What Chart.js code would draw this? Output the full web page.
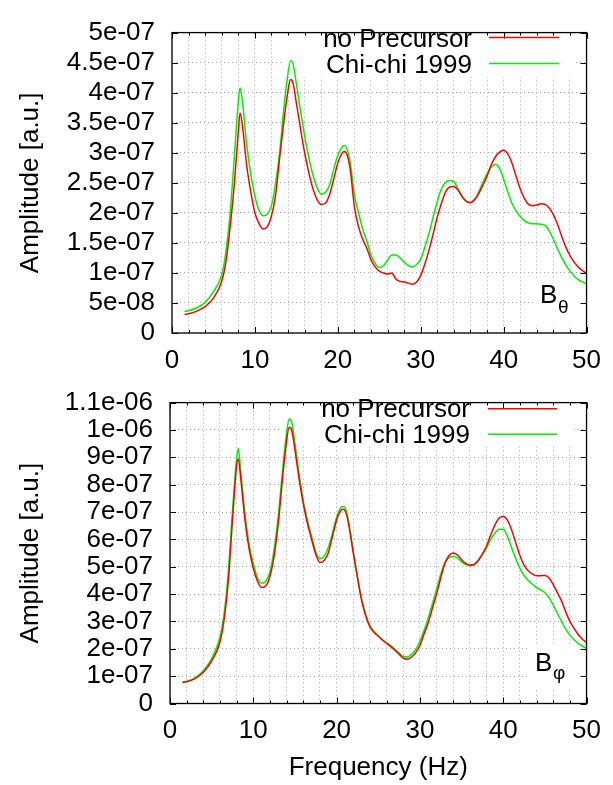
<!DOCTYPE html>
<html>
<head>
<meta charset="utf-8">
<script src="https://cdn.jsdelivr.net/npm/chart.js@4.4.1/dist/chart.umd.min.js"></script>
<style>
    html, body { margin: 0; padding: 0; background: #fff; }
    #wrap { position: relative; width: 613px; height: 785px; }
    canvas { position: absolute; left: 0; }
    #thetaChart { top: 0; }
    #phiChart { top: 370px; }
</style>
</head>
<body>
<div id="wrap">
    <canvas id="thetaChart" width="613" height="382"></canvas>
    <canvas id="phiChart" width="613" height="415"></canvas>
</div>
<script>
// frequency samples (Hz), shared by all curves
const freq = [
    1.5, 2, 3, 4, 5, 6, 6.5, 7, 7.5, 8,
    8.2, 8.5,
    9, 9.5, 10, 10.5, 11, 11.5, 12, 12.5, 13, 13.5, 14,
    14.3, 14.6,
    15, 15.5, 16, 16.5, 17, 17.5, 18, 18.5, 19, 19.5, 20, 20.5,
    20.8, 21.2,
    21.5, 22, 22.5, 23, 23.5, 24, 24.5, 25, 25.5, 26, 26.5, 27, 27.5, 28, 28.5, 29, 29.5,
    30, 30.5, 31, 31.5, 32, 32.5, 33, 33.5, 34, 34.5, 35, 35.5, 36, 36.5, 37, 37.5, 38, 38.5, 39, 39.5,
    40, 40.5, 41, 41.5, 42, 42.5, 43, 43.5, 44, 44.5, 45, 45.5, 46, 46.5, 47, 47.5, 48, 48.5, 49, 49.5, 50
];

// B_theta amplitude, units of 1e-8
const thetaNoPrecursor = [
    3.1, 3.2, 3.65, 4.4, 5.8, 8.6, 11.8, 17.5, 24.5, 33.5,
    36.6, 34.5,
    28, 23.5, 20, 18.2, 17.3, 17.7, 19.5, 23, 29.3, 35.3, 40.4,
    42.2, 41.6,
    38.3, 34, 30, 26.7, 24, 22.2, 21.4, 21.6, 23, 25.6, 28.3, 29.9,
    30.2, 29.3,
    27.2, 21.0, 17.7, 15.6, 14.1, 12.2, 11.0, 10.3, 10.0, 9.8, 10.0, 9.0, 8.6, 8.5, 8.3, 8.1, 8.5,
    9.6, 11.5, 13.8, 16.5, 19.3, 21.6, 23.5, 24.3, 24.4, 23.8, 22.7, 21.9, 21.7, 22.2, 23.2, 24.6, 26.1, 28, 29.3, 30.1,
    30.4, 29.8, 28.3, 26.1, 24, 22.4, 21.4, 21.2, 21.3, 21.5, 21.4, 20.8, 19.7, 18.1, 16.1, 14.3, 12.9, 11.8, 11.0, 10.4, 9.9
];
const thetaChichi = [
    3.6, 3.7, 4.2, 5.1, 6.9, 9.7, 13.5, 19.7, 29, 38.5,
    40.8, 38.5,
    31.5, 26.5, 22.8, 20.4, 19.5, 19.8, 21.2, 25, 30.3, 37.5, 43.3,
    45.3, 44.8,
    41.5, 37, 32.8, 29.2, 26.3, 24.2, 23.1, 23.4, 24.6, 27.2, 29.6, 30.9,
    31.2, 30.2,
    28.3, 23.0, 20.0, 17.3, 15.3, 13.0, 11.6, 10.9, 11.2, 12.1, 13.0, 13.0, 12.5, 11.8, 11.2, 11.0, 11.4,
    12.3, 14.3, 16.6, 19.3, 21.9, 24, 25.1, 25.4, 25.2, 24, 22.7, 21.9, 21.7, 22.2, 23.5, 25.1, 26.5, 27.6, 28.1, 27.4,
    25.6, 23.5, 21.6, 20.3, 19.4, 18.7, 18.3, 18.2, 18.2, 18.1, 17.9, 17.0, 15.6, 14.0, 12.6, 11.3, 10.3, 9.5, 8.9, 8.5, 8.2
];

// B_phi amplitude, units of 1e-7
const phiNoPrecursor = [
    0.77, 0.79, 0.91, 1.14, 1.55, 2.25, 3.07, 4.47, 6.7, 8.7,
    8.94, 8.2,
    6.7, 5.64, 4.94, 4.47, 4.24, 4.3, 4.65, 5.4, 6.58, 8.2, 9.6,
    10.1, 10.0,
    9.27, 8.2, 7.3, 6.58, 6.0, 5.45, 5.15, 5.23, 5.5, 6.1, 6.7, 7.05,
    7.1, 6.9,
    6.46, 5.5, 4.6, 3.77, 3.2, 2.8, 2.6, 2.46, 2.32, 2.2, 2.08, 1.95, 1.8, 1.66, 1.62, 1.7, 1.86,
    2.12, 2.54, 2.95, 3.48, 4.0, 4.59, 5.12, 5.41, 5.5, 5.43, 5.26, 5.12, 5.06, 5.08, 5.23, 5.47, 5.76, 6.17, 6.52, 6.78,
    6.84, 6.7, 6.35, 5.88, 5.41, 5.06, 4.85, 4.73, 4.67, 4.67, 4.68, 4.59, 4.35, 4.05, 3.75, 3.35, 3.0, 2.75, 2.52, 2.35, 2.23
];
const phiChichi = [
    0.79, 0.81, 0.94, 1.2, 1.64, 2.43, 3.3, 4.82, 7.05, 8.95,
    9.33, 8.45,
    6.93, 5.82, 5.12, 4.6, 4.4, 4.47, 4.82, 5.64, 6.87, 8.5, 9.9,
    10.4, 10.3,
    9.5, 8.39, 7.4, 6.7, 6.11, 5.55, 5.29, 5.38, 5.7, 6.23, 6.81, 7.16,
    7.2, 7.0,
    6.52, 5.58, 4.65, 3.83, 3.25, 2.85, 2.63, 2.48, 2.33, 2.22, 2.12, 1.98, 1.85, 1.72, 1.7, 1.8, 1.97,
    2.28, 2.68, 3.13, 3.65, 4.18, 4.73, 5.15, 5.33, 5.37, 5.32, 5.18, 5.08, 5.04, 5.08, 5.23, 5.44, 5.7, 6.0, 6.23, 6.37,
    6.37, 6.11, 5.7, 5.29, 4.94, 4.68, 4.5, 4.36, 4.24, 4.15, 4.05, 3.87, 3.6, 3.3, 3.0, 2.72, 2.5, 2.33, 2.2, 2.1, 2.02
];

const seriesLabels = ['no Precursor', 'Chi-chi 1999'];
const freqTickLabels = ['0', '10', '20', '30', '40', '50'];
const thetaTickLabels = ['0', '5e-08', '1e-07', '1.5e-07', '2e-07', '2.5e-07', '3e-07', '3.5e-07', '4e-07', '4.5e-07', '5e-07'];
const phiTickLabels = ['0', '1e-07', '2e-07', '3e-07', '4e-07', '5e-07', '6e-07', '7e-07', '8e-07', '9e-07', '1e-06', '1.1e-06'];

const FONT = '"Liberation Sans", Arial, sans-serif';
const FSIZE = 26;
const RED = '#ff0000';
const GREEN = '#00f000';
const GRID = '#a8a8a8';

// gnuplot-like frame, inward tics, key and component tag
const gnuplotDecor = {
    id: 'gnuplotDecor',
    beforeDatasetsDraw(chart, args, o) {
        const ctx = chart.ctx;
        ctx.save();
        ctx.fillStyle = '#fff';
        o.boxes.forEach(b => ctx.fillRect(b[0], b[1], b[2] - b[0], b[3] - b[1]));
        ctx.restore();
    },
    afterDatasetsDraw(chart, args, o) {
        const { ctx, chartArea: a, scales } = chart;
        ctx.save();
        ctx.strokeStyle = '#000';
        ctx.lineWidth = 1;
        ctx.beginPath();
        scales.x.ticks.forEach(t => {
            const px = Math.round(scales.x.getPixelForValue(t.value)) + 0.5;
            const len = t.value % 10 === 0 ? 6 : 3;
            ctx.moveTo(px, a.bottom); ctx.lineTo(px, a.bottom - len);
            ctx.moveTo(px, a.top); ctx.lineTo(px, a.top + len);
        });
        scales.y.ticks.forEach(t => {
            const py = Math.round(scales.y.getPixelForValue(t.value)) + 0.5;
            ctx.moveTo(a.left, py); ctx.lineTo(a.left + 6, py);
            ctx.moveTo(a.right, py); ctx.lineTo(a.right - 6, py);
        });
        ctx.stroke();
        ctx.lineWidth = 1.3;
        ctx.strokeRect(a.left, a.top, a.right - a.left, a.bottom - a.top);

        // key
        ctx.font = FSIZE + 'px ' + FONT;
        ctx.fillStyle = '#000';
        ctx.textAlign = 'right';
        ctx.textBaseline = 'alphabetic';
        chart.data.datasets.forEach((ds, i) => {
            ctx.fillText(ds.label, o.keyTextX, o.keyBase[i]);
            ctx.strokeStyle = ds.borderColor;
            ctx.lineWidth = 1.5;
            ctx.beginPath();
            ctx.moveTo(o.keyLine[0], o.keyY[i]);
            ctx.lineTo(o.keyLine[1], o.keyY[i]);
            ctx.stroke();
        });

        // B_theta / B_phi
        ctx.textAlign = 'left';
        ctx.fillText('B', o.tagX, o.tagY);
        ctx.font = '19px ' + FONT;
        ctx.fillText(o.tagSub, o.tagX + 18, o.tagY + o.subDrop);
        ctx.restore();
    }
};

function buildChart(id, cfg) {
    const mk = (arr) => freq.map((f, i) => ({ x: f, y: arr[i] * cfg.unit }));
    return new Chart(document.getElementById(id), {
        type: 'line',
        data: {
            datasets: [
                { label: seriesLabels[0], data: mk(cfg.noPre), borderColor: RED, borderWidth: 1.5, pointRadius: 0, cubicInterpolationMode: 'monotone' },
                { label: seriesLabels[1], data: mk(cfg.chichi), borderColor: GREEN, borderWidth: 1.5, pointRadius: 0, cubicInterpolationMode: 'monotone' }
            ]
        },
        options: {
            responsive: false,
            animation: false,
            layout: { padding: cfg.padding },
            plugins: {
                legend: { display: false },
                tooltip: { enabled: false },
                gnuplotDecor: cfg.decor
            },
            scales: {
                x: {
                    type: 'linear', min: 0, max: 50,
                    afterFit: s => { s.height = cfg.xAxisHeight; },
                    ticks: {
                        stepSize: 2, autoSkip: false, maxRotation: 0, maxTicksLimit: 40, padding: 12,
                        color: '#000', font: { family: FONT, size: FSIZE },
                        callback: v => (v % 10 === 0 ? freqTickLabels[v / 10] : '')
                    },
                    grid: { color: GRID, lineWidth: 1, drawTicks: false },
                    border: { display: false, dash: [1, 3] },
                    title: cfg.xTitle
                },
                y: {
                    type: 'linear', min: 0, max: cfg.yMax,
                    afterFit: s => { s.width = cfg.yAxisWidth; },
                    ticks: {
                        stepSize: cfg.yStep, maxTicksLimit: 30, autoSkip: false, padding: 17,
                        color: '#000', font: { family: FONT, size: FSIZE },
                        callback: (v, i) => cfg.yTicks[i]
                    },
                    grid: { color: GRID, lineWidth: 1, drawTicks: false },
                    border: { display: false, dash: [1, 3] },
                    title: {
                        display: true, text: 'Amplitude [a.u.]', color: '#000',
                        font: { family: FONT, size: FSIZE }, padding: { top: 15, bottom: 0 }
                    }
                }
            }
        },
        plugins: [gnuplotDecor]
    });
}

buildChart('thetaChart', {
    noPre: thetaNoPrecursor, chichi: thetaChichi, unit: 1e-8,
    yMax: 5e-7, yStep: 5e-8, yTicks: thetaTickLabels,
    padding: { left: 0, right: 22, top: 18, bottom: 0 },
    yAxisWidth: 172, xAxisHeight: 49,
    xTitle: { display: false },
    decor: {
        boxes: [[282, 18, 575, 77], [535, 278, 585, 325]],
        keyTextX: 472, keyBase: [47, 73], keyY: [37.5, 63.5], keyLine: [489, 559],
        tagX: 540, tagY: 303, tagSub: 'θ', subDrop: 10
    }
});

buildChart('phiChart', {
    noPre: phiNoPrecursor, chichi: phiChichi, unit: 1e-7,
    yMax: 1.1e-6, yStep: 1e-7, yTicks: phiTickLabels,
    padding: { left: 0, right: 24, top: 20, bottom: 0 },
    yAxisWidth: 170, xAxisHeight: 81.5,
    xTitle: {
        display: true, text: 'Frequency (Hz)', color: '#000',
        font: { family: FONT, size: FSIZE }, padding: { top: 0, bottom: 2 }
    },
    decor: {
        boxes: [[281, 20, 573, 75], [530, 275, 583, 320]],
        keyTextX: 470, keyBase: [47, 73], keyY: [38.7, 64.3], keyLine: [488, 557],
        tagX: 535, tagY: 301, tagSub: 'φ', subDrop: 8
    }
});
</script>
</body>
</html>
